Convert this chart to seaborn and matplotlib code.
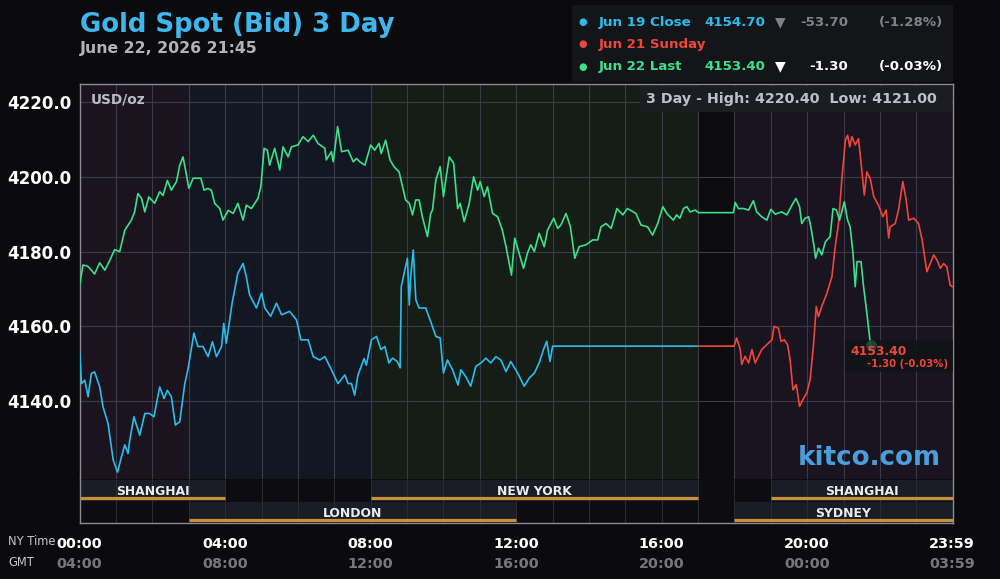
import numpy as np
import pandas as pd
import matplotlib
matplotlib.use('Agg')
import matplotlib.pyplot as plt
import matplotlib.transforms as mtransforms
from matplotlib.patches import Rectangle
import seaborn as sns

# 시간(NY, 시) / 가격 데이터 - 차트에서 읽은 값
jun19_hours = [0.00, 0.05, 0.14, 0.23, 0.32, 0.41, 0.55, 0.64, 0.78, 0.92, 1.04, 1.15, 1.24, 1.33, 1.37,
               1.49, 1.65, 1.79, 1.92, 2.04, 2.20, 2.32, 2.41, 2.52, 2.63, 2.75, 2.89, 2.98, 3.14, 3.25,
               3.39, 3.53, 3.65, 3.76, 3.90, 3.96, 4.03, 4.19, 4.35, 4.49, 4.58, 4.67, 4.86, 5.00, 5.09,
               5.25, 5.41, 5.55, 5.77, 5.96, 6.08, 6.28, 6.42, 6.60, 6.74, 6.92, 7.10, 7.29, 7.38, 7.47,
               7.56, 7.65, 7.82, 7.88, 8.02, 8.16, 8.28, 8.39, 8.50, 8.60, 8.73, 8.81, 8.84, 8.94, 9.01,
               9.06, 9.10, 9.17, 9.24, 9.33, 9.51, 9.65, 9.79, 9.91, 10.00, 10.11, 10.25, 10.40, 10.48,
               10.61, 10.75, 10.89, 11.03, 11.17, 11.30, 11.44, 11.58, 11.72, 11.85, 12.04, 12.22, 12.36,
               12.50, 12.63, 12.75, 12.84, 12.93, 13.00, 17.00]
jun19_prices = [4152.9, 4144.7, 4145.6, 4141.2, 4147.4, 4147.8, 4143.8, 4138.5, 4134.0, 4124.3, 4121.0,
                4125.2, 4128.3, 4126.0, 4129.2, 4135.8, 4130.9, 4136.7, 4136.7, 4135.8, 4143.8, 4140.7,
                4142.9, 4141.2, 4133.6, 4134.5, 4144.7, 4148.7, 4158.2, 4154.6, 4154.6, 4151.9, 4155.9,
                4151.9, 4154.6, 4160.8, 4155.5, 4166.2, 4174.3, 4176.8, 4173.3, 4168.4, 4164.9, 4168.9,
                4164.9, 4162.7, 4166.2, 4163.1, 4164.0, 4161.7, 4156.4, 4156.4, 4151.9, 4151.0, 4151.9,
                4148.4, 4144.7, 4147.0, 4144.7, 4144.7, 4141.6, 4147.0, 4151.4, 4149.6, 4156.4, 4157.3,
                4153.8, 4154.6, 4150.2, 4151.5, 4150.6, 4148.9, 4170.6, 4175.1, 4178.2, 4165.7, 4173.3,
                4180.4, 4167.1, 4164.9, 4164.9, 4161.3, 4157.3, 4156.9, 4147.5, 4151.0, 4148.4, 4144.3,
                4148.4, 4146.6, 4144.0, 4149.3, 4150.2, 4151.5, 4150.2, 4151.9, 4151.0, 4147.9, 4150.6,
                4147.5, 4144.0, 4146.2, 4147.5, 4150.2, 4153.8, 4156.0, 4150.6, 4154.7, 4154.7]

jun21_hours = [17.00, 17.99, 18.06, 18.16, 18.20, 18.29, 18.39, 18.48, 18.57, 18.66, 18.75, 18.89, 19.03,
               19.09, 19.21, 19.28, 19.37, 19.46, 19.53, 19.61, 19.70, 19.79, 19.88, 19.99, 20.08, 20.17,
               20.25, 20.31, 20.40, 20.54, 20.68, 20.77, 20.86, 20.95, 21.05, 21.11, 21.17, 21.23, 21.32,
               21.41, 21.50, 21.57, 21.64, 21.73, 21.83, 21.96, 22.08, 22.17, 22.24, 22.28, 22.42, 22.51,
               22.63, 22.72, 22.79, 22.93, 23.06, 23.16, 23.29, 23.48, 23.57, 23.66, 23.75, 23.84, 23.93,
               23.99]
jun21_prices = [4154.7, 4154.7, 4156.9, 4153.8, 4149.8, 4152.0, 4150.2, 4153.8, 4150.2, 4152.0, 4153.8,
                4155.1, 4156.4, 4160.0, 4159.5, 4156.0, 4156.4, 4155.1, 4151.0, 4143.0, 4144.4, 4138.6,
                4140.4, 4142.2, 4145.7, 4154.7, 4165.3, 4162.6, 4165.3, 4168.8, 4173.3, 4181.3, 4187.5,
                4199.1, 4209.8, 4211.1, 4208.0, 4210.7, 4208.5, 4210.2, 4201.8, 4195.1, 4201.3, 4199.6,
                4194.7, 4192.4, 4189.3, 4191.1, 4183.6, 4186.6, 4187.5, 4191.1, 4198.7, 4193.8, 4188.4,
                4188.9, 4187.5, 4183.1, 4174.6, 4179.1, 4177.7, 4175.5, 4176.8, 4175.9, 4171.0, 4170.6]

jun22_hours = [0.00, 0.09, 0.23, 0.41, 0.55, 0.69, 0.82, 0.96, 1.10, 1.24, 1.42, 1.51, 1.60, 1.70, 1.79,
               1.90, 2.06, 2.20, 2.29, 2.41, 2.52, 2.66, 2.75, 2.84, 2.91, 3.00, 3.12, 3.33, 3.42, 3.53,
               3.62, 3.71, 3.85, 3.94, 4.08, 4.22, 4.35, 4.49, 4.58, 4.72, 4.90, 4.98, 5.07, 5.16, 5.22,
               5.36, 5.50, 5.59, 5.73, 5.82, 6.00, 6.14, 6.28, 6.42, 6.55, 6.74, 6.78, 6.92, 6.97, 7.09,
               7.20, 7.38, 7.52, 7.61, 7.70, 7.84, 8.00, 8.11, 8.23, 8.29, 8.41, 8.53, 8.64, 8.78, 8.96,
               9.06, 9.15, 9.24, 9.33, 9.42, 9.56, 9.65, 9.70, 9.79, 9.91, 10.00, 10.09, 10.16, 10.28,
               10.39, 10.46, 10.57, 10.71, 10.83, 10.94, 11.01, 11.12, 11.21, 11.35, 11.49, 11.62, 11.72,
               11.87, 11.96, 12.08, 12.20, 12.31, 12.40, 12.50, 12.63, 12.77, 12.86, 13.03, 13.14, 13.23,
               13.37, 13.49, 13.61, 13.73, 13.92, 14.10, 14.24, 14.33, 14.47, 14.61, 14.77, 14.93, 15.06,
               15.29, 15.43, 15.61, 15.75, 15.89, 16.03, 16.14, 16.23, 16.32, 16.41, 16.50, 16.60, 16.69,
               16.78, 16.92, 17.01, 17.97, 18.02, 18.11, 18.25, 18.39, 18.52, 18.61, 18.75, 18.89, 19.00,
               19.12, 19.30, 19.44, 19.58, 19.69, 19.79, 19.85, 19.94, 20.04, 20.10, 20.19, 20.23, 20.31,
               20.40, 20.50, 20.63, 20.71, 20.80, 20.89, 21.02, 21.11, 21.18, 21.26, 21.32, 21.37, 21.48,
               21.55, 21.64, 21.73, 21.75]
jun22_prices = [4171.1, 4176.4, 4176.0, 4174.0, 4177.0, 4175.0, 4177.5, 4180.5, 4180.0, 4185.7, 4188.4,
                4190.6, 4195.5, 4194.2, 4190.6, 4194.6, 4192.9, 4196.0, 4195.0, 4199.0, 4196.4, 4198.7,
                4203.1, 4205.3, 4201.8, 4196.9, 4199.6, 4199.6, 4196.4, 4196.9, 4196.4, 4192.9, 4191.5,
                4188.4, 4191.0, 4190.2, 4192.9, 4188.4, 4192.4, 4191.5, 4194.2, 4197.3, 4207.6, 4207.1,
                4203.1, 4207.6, 4201.8, 4208.0, 4205.3, 4208.0, 4208.5, 4210.7, 4209.4, 4211.1, 4208.9,
                4207.6, 4204.5, 4206.7, 4204.0, 4213.4, 4206.7, 4207.1, 4204.0, 4204.9, 4204.0, 4203.1,
                4208.5, 4207.1, 4208.9, 4206.2, 4209.8, 4204.5, 4202.7, 4201.3, 4193.8, 4192.9, 4189.8,
                4193.8, 4193.8, 4189.3, 4184.0, 4190.2, 4191.1, 4199.1, 4202.7, 4194.7, 4200.9, 4205.3,
                4203.6, 4191.5, 4192.9, 4188.0, 4192.9, 4200.0, 4196.4, 4198.7, 4194.7, 4197.3, 4190.2,
                4189.3, 4185.7, 4181.3, 4173.7, 4183.6, 4179.6, 4175.5, 4179.6, 4181.8, 4180.0, 4184.9,
                4181.3, 4185.7, 4188.9, 4186.2, 4187.1, 4190.2, 4186.6, 4178.2, 4181.3, 4181.8, 4183.1,
                4183.1, 4186.6, 4187.5, 4186.2, 4191.5, 4189.8, 4191.5, 4190.2, 4187.1, 4186.6, 4184.4,
                4187.5, 4192.0, 4190.2, 4189.3, 4188.4, 4189.8, 4188.9, 4191.5, 4192.0, 4190.6, 4191.1,
                4190.4, 4190.4, 4193.1, 4191.5, 4191.5, 4191.1, 4193.6, 4190.6, 4189.3, 4188.4, 4191.3,
                4190.0, 4190.6, 4189.8, 4192.4, 4194.2, 4192.0, 4187.5, 4188.9, 4189.3, 4186.6, 4181.3,
                4178.2, 4180.9, 4179.1, 4182.6, 4184.0, 4191.5, 4191.1, 4188.4, 4193.3, 4188.4, 4186.6,
                4179.5, 4170.6, 4177.3, 4177.3, 4170.6, 4163.5, 4155.9, 4153.4]

# 범례 텍스트
legend_labels = ['Jun 19 Close', 'Jun 21 Sunday', 'Jun 22 Last']
legend_prices = ['4154.70', '', '4153.40']
legend_changes = ['-53.70', '', '-1.30']
legend_pcts = ['(-1.28%)', '', '(-0.03%)']

# 시장 세션 (행 1 = 위, 행 0 = 아래)
session_names = ['SHANGHAI', 'NEW YORK', 'SHANGHAI', 'LONDON', 'SYDNEY']
session_starts = [0, 8, 19, 3, 18]
session_ends = [4, 17, 24, 12, 24]
session_rows = [1, 1, 1, 0, 0]

# 배경 구역
zone_starts = [0, 3, 8, 17, 18]
zone_ends = [3, 8, 17, 18, 24]

# x축 라벨
x_ticks = [0, 4, 8, 12, 16, 20, 23.983]
ny_labels = ['00:00', '04:00', '08:00', '12:00', '16:00', '20:00', '23:59']
gmt_labels = ['04:00', '08:00', '12:00', '16:00', '20:00', '00:00', '03:59']
y_ticks = [4140, 4160, 4180, 4200, 4220]

# 색상
BG = '#0b0b0e'
CYAN, RED, GREEN = '#2bbcec', '#ee463c', '#3be08a'
zone_colors = ['#1b141f', '#131722', '#161d17', '#0c0c0f', '#1a1320']
ORANGE = '#c8903a'
BORDER = '#8a8a94'

sns.set_theme(style='dark', rc={'figure.facecolor': BG, 'axes.facecolor': BG})
plt.rcParams['font.family'] = ['DejaVu Sans']

df = pd.concat([
    pd.DataFrame({'hour': jun19_hours, 'price': jun19_prices, 'day': 'Jun 19'}),
    pd.DataFrame({'hour': jun21_hours, 'price': jun21_prices, 'day': 'Jun 21'}),
    pd.DataFrame({'hour': jun22_hours, 'price': jun22_prices, 'day': 'Jun 22'}),
])

fig = plt.figure(figsize=(10, 5.79), dpi=100)
fig.patch.set_facecolor(BG)


def fx(x):
    return x / 1000


def fy(y):
    return 1 - y / 579


ax = fig.add_axes([fx(79.7), fy(479.3), 0.873, (479.3 - 84) / 579])
ax_s = fig.add_axes([fx(79.7), fy(523), 0.873, (523 - 479.3) / 579])

# 가격 영역
for s, e, c in zip(zone_starts, zone_ends, zone_colors):
    ax.axvspan(s, e, color=c, lw=0, zorder=0)

sns.lineplot(data=df, x='hour', y='price', hue='day', palette=[CYAN, RED, GREEN],
             estimator=None, sort=False, legend=False, lw=1.2, ax=ax, zorder=3)

ax.set_xlim(0, 24)
ax.set_ylim(4119.1, 4224.8)
ax.set_xticks(np.arange(1, 24))
ax.set_yticks(y_ticks)
ax.set_yticklabels([f'{v:.1f}' for v in y_ticks])
ax.tick_params(axis='x', length=0, labelbottom=False)
ax.tick_params(axis='y', length=0, pad=6, labelsize=12, labelcolor='white')
for lab in ax.get_yticklabels():
    lab.set_fontweight('bold')
    lab.set_verticalalignment('center_baseline')
ax.grid(True, color='#3a3c46', lw=0.8, zorder=1)
ax.set_axisbelow(True)
ax.set_xlabel('')
ax.set_ylabel('')
for side in ['top', 'left', 'right']:
    ax.spines[side].set_visible(True)
    ax.spines[side].set_color(BORDER)
    ax.spines[side].set_linewidth(1.0)
ax.spines['bottom'].set_visible(False)

ax.text(0.013, 0.961, 'USD/oz', transform=ax.transAxes, ha='left', va='center',
        fontsize=9.8, fontweight='bold', color='#b9bcc6')

# 마지막 가격 라벨
last_h, last_p = jun22_hours[-1], jun22_prices[-1]
ax.add_patch(Rectangle((last_h - 0.71, last_p - 5.6), 24 - (last_h - 0.71), 8.5,
                       facecolor='#111315', edgecolor='none', alpha=0.9, zorder=4))
ax.scatter([last_h], [last_p + 1.5], s=60, color=GREEN, alpha=0.25, lw=0, zorder=5)
ax.annotate(f'{last_p:.2f}', xy=(last_h, last_p), xytext=(-14.4, 0), textcoords='offset points',
            ha='left', va='center', fontsize=8.9, fontweight='bold', color=RED, zorder=6)
ax.annotate(f'{legend_changes[2]} {legend_pcts[2]}', xy=(last_h, last_p), xytext=(55.4, -9.0),
            textcoords='offset points', ha='right', va='center', fontsize=7.3,
            fontweight='bold', color=RED, zorder=6)

ax.text(0.905, 0.055, 'kitco.com', transform=ax.transAxes, ha='center', va='center',
        fontsize=18.8, fontweight='bold', color='#4a9edc')

# 세션 영역
ax_s.set_facecolor('#0d0d11')
ax_s.barh([r + 0.5 for r in session_rows], [e - s for s, e in zip(session_starts, session_ends)],
          left=session_starts, height=0.95, color='#1a1d26', lw=0, zorder=1)
ax_s.hlines([r + 0.13 for r in session_rows], session_starts, session_ends,
            color=ORANGE, lw=2.3, zorder=3)
for name, s, e, r in zip(session_names, session_starts, session_ends, session_rows):
    ax_s.text((s + e) / 2, r + 0.44, name, ha='center', va='center', fontsize=8.9,
              fontweight='bold', color='#ececf0', zorder=4)
ax_s.vlines(np.arange(1, 24), 0, 2, color='#2a2c34', lw=0.8, zorder=2)
ax_s.set_xlim(0, 24)
ax_s.set_ylim(0, 2)
ax_s.set_xticks([])
ax_s.set_yticks([])
ax_s.grid(False)
for side in ['bottom', 'left', 'right']:
    ax_s.spines[side].set_visible(True)
    ax_s.spines[side].set_color(BORDER)
    ax_s.spines[side].set_linewidth(1.0)
ax_s.spines['top'].set_visible(False)

# x축 시간 라벨
trans = mtransforms.blended_transform_factory(ax_s.transData, fig.transFigure)
for h, ny, gmt in zip(x_ticks, ny_labels, gmt_labels):
    ax_s.text(h, fy(544), ny, transform=trans, ha='center', va='center',
              fontsize=10.4, fontweight='bold', color='white')
    ax_s.text(h, fy(563.5), gmt, transform=trans, ha='center', va='center',
              fontsize=10.4, fontweight='bold', color='#76767c')
fig.text(fx(8), fy(541.5), 'NY Time', ha='left', va='center', fontsize=8.3, color='#c8c8cc')
fig.text(fx(8), fy(562.5), 'GMT', ha='left', va='center', fontsize=8.3, color='#c8c8cc')

# 제목
fig.text(fx(80), fy(32), 'Gold Spot (Bid) 3 Day', ha='left', va='baseline',
         fontsize=18.7, fontweight='bold', color='#3fb6ec')
fig.text(fx(80), fy(53), 'June 22, 2026 21:45', ha='left', va='baseline',
         fontsize=11.3, fontweight='bold', color='#b3b3b6')

# 범례 박스
fig.add_artist(Rectangle((fx(572), fy(82)), fx(381), 77 / 579, transform=fig.transFigure,
                         facecolor='#141519', edgecolor='none', zorder=0))
row_y = [22.3, 44.3, 66.7]
colors = [CYAN, RED, GREEN]
tri_colors = ['#7f8288', None, 'white']
chg_colors = ['#7f8288', None, 'white']
for i in range(3):
    y = fy(row_y[i])
    fig.text(fx(583), y, '●', ha='center', va='center', fontsize=7, color=colors[i])
    fig.text(fx(599), y, legend_labels[i], ha='left', va='center', fontsize=9.6,
             fontweight='bold', color=colors[i])
    if legend_prices[i]:
        fig.text(fx(704), y, legend_prices[i], ha='left', va='center', fontsize=9.6,
                 fontweight='bold', color=colors[i])
        fig.text(fx(780), y, '▼', ha='center', va='center', fontsize=10, color=tri_colors[i])
        fig.text(fx(848), y, legend_changes[i], ha='right', va='center', fontsize=9.6,
                 fontweight='bold', color=chg_colors[i])
        fig.text(fx(943), y, legend_pcts[i], ha='right', va='center', fontsize=9.6,
                 fontweight='bold', color=chg_colors[i])

# 3일 고가/저가 박스
fig.add_artist(Rectangle((fx(640), fy(112)), fx(312), 26 / 579, transform=fig.transFigure,
                         facecolor='#1c1d22', edgecolor='none', zorder=5))
fig.text(fx(646), fy(99), '3 Day - High: 4220.40  Low: 4121.00', ha='left', va='center',
         fontsize=10.3, fontweight='bold', color='#bcc0cc', zorder=6)

fig.savefig('out.png', dpi=100, facecolor=BG)
